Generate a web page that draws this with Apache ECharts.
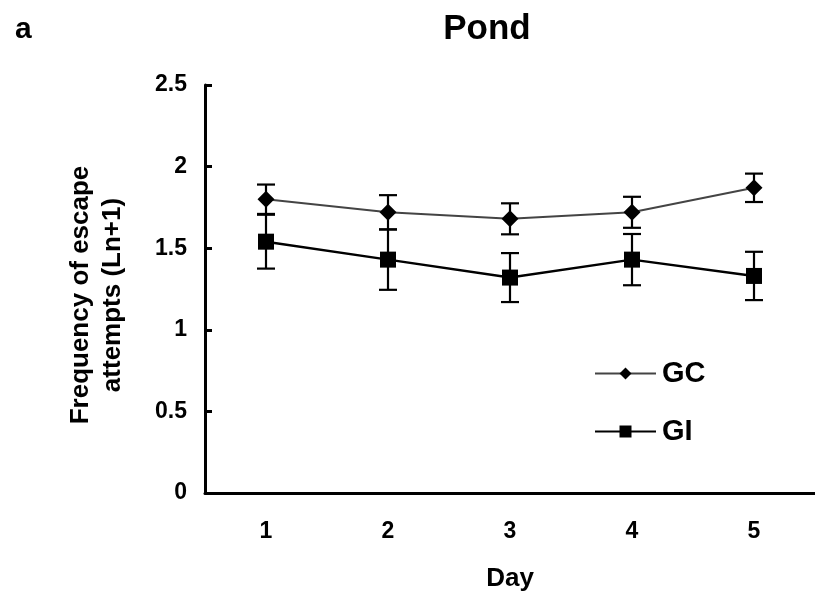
<!DOCTYPE html>
<html>
<head>
<meta charset="utf-8">
<script src="https://cdn.jsdelivr.net/npm/echarts@6/dist/echarts.min.js"></script>
<style>
  html, body { margin: 0; padding: 0; background: #fff; }
  #chart { width: 815px; height: 599px; }
</style>
</head>
<body>
<div id="chart"></div>
<script>
// Days of observation
const days = ['1', '2', '3', '4', '5'];
// Mean frequency of escape attempts (Ln+1) and standard errors
const gcMean = [1.80, 1.72, 1.68, 1.72, 1.87];
const gcErr = [0.09, 0.105, 0.095, 0.095, 0.087];
const giMean = [1.54, 1.43, 1.32, 1.43, 1.33];
const giErr = [0.165, 0.185, 0.15, 0.157, 0.148];
// Y axis ticks
const yMin = 0, yMax = 2.5, yStep = 0.5;

const FONT = '"Liberation Sans", Arial, sans-serif';

// Error bar data: [categoryIndex, low, high]
function errRows(mean, err) {
  return mean.map((m, i) => [i, m - err[i], m + err[i]]);
}

function errorBarRender(params, api) {
  const x = api.value(0);
  const lo = api.coord([x, api.value(1)]);
  const hi = api.coord([x, api.value(2)]);
  const half = 9;
  const style = { stroke: '#000', lineWidth: 2.2 };
  return {
    type: 'group',
    children: [
      { type: 'line', shape: { x1: lo[0], y1: lo[1], x2: hi[0], y2: hi[1] }, style },
      { type: 'line', shape: { x1: lo[0] - half, y1: lo[1], x2: lo[0] + half, y2: lo[1] }, style },
      { type: 'line', shape: { x1: hi[0] - half, y1: hi[1], x2: hi[0] + half, y2: hi[1] }, style }
    ]
  };
}

const chart = echarts.init(document.getElementById('chart'), null, { renderer: 'canvas' });

chart.setOption({
  backgroundColor: '#fff',
  animation: false,
  textStyle: { fontFamily: FONT },
  title: [
    { text: 'a', left: 10, top: 10, textStyle: { fontFamily: FONT, fontWeight: 'bold', fontSize: 30, color: '#000' } },
    { text: 'Pond', left: 482, top: 7, textAlign: 'center', textStyle: { fontFamily: FONT, fontWeight: 'bold', fontSize: 35, color: '#000' } }
  ],
  legend: {
    orient: 'vertical',
    left: 594,
    top: 359,
    padding: 0,
    itemWidth: 61,
    itemHeight: 15,
    itemGap: 29,
    textStyle: { fontFamily: FONT, fontWeight: 'bold', fontSize: 29, color: '#000', padding: [0, 0, 0, 1] },
    data: ['GC', 'GI']
  },
  grid: { left: 205, right: 0, top: 85, bottom: 106, containLabel: false },
  xAxis: {
    type: 'category',
    data: days,
    boundaryGap: true,
    name: 'Day',
    nameLocation: 'middle',
    nameGap: 73,
    nameTextStyle: { fontFamily: FONT, fontWeight: 'bold', fontSize: 26, color: '#000' },
    axisLine: { lineStyle: { color: '#000', width: 3 } },
    axisTick: { inside: true, length: 7, lineStyle: { color: '#000', width: 3 } },
    axisLabel: { margin: 27, fontFamily: FONT, fontWeight: 'bold', fontSize: 23, color: '#000' },
    splitLine: { show: false }
  },
  yAxis: {
    type: 'value',
    min: yMin,
    max: yMax,
    interval: yStep,
    name: 'Frequency of escape\nattempts (Ln+1)',
    nameLocation: 'middle',
    nameRotate: 90,
    nameGap: 76,
    nameTextStyle: { fontFamily: FONT, fontWeight: 'bold', fontSize: 26, color: '#000', lineHeight: 32, padding: [0, 12, 0, 0] },
    axisLine: { show: true, lineStyle: { color: '#000', width: 3 } },
    axisTick: { show: true, inside: true, length: 7, lineStyle: { color: '#000', width: 3 } },
    axisLabel: { margin: 18, fontFamily: FONT, fontWeight: 'bold', fontSize: 23, color: '#000' },
    splitLine: { show: false }
  },
  series: [
    {
      name: 'GC-err', type: 'custom', renderItem: errorBarRender,
      data: errRows(gcMean, gcErr), z: 2, silent: true
    },
    {
      name: 'GI-err', type: 'custom', renderItem: errorBarRender,
      data: errRows(giMean, giErr), z: 2, silent: true
    },
    {
      name: 'GC', type: 'line', data: gcMean,
      symbol: 'diamond', symbolSize: 17,
      lineStyle: { color: '#444', width: 2 },
      itemStyle: { color: '#000' },
      z: 3
    },
    {
      name: 'GI', type: 'line', data: giMean,
      symbol: 'rect', symbolSize: 16,
      lineStyle: { color: '#000', width: 2.5 },
      itemStyle: { color: '#000' },
      z: 3
    }
  ]
});
</script>
</body>
</html>
